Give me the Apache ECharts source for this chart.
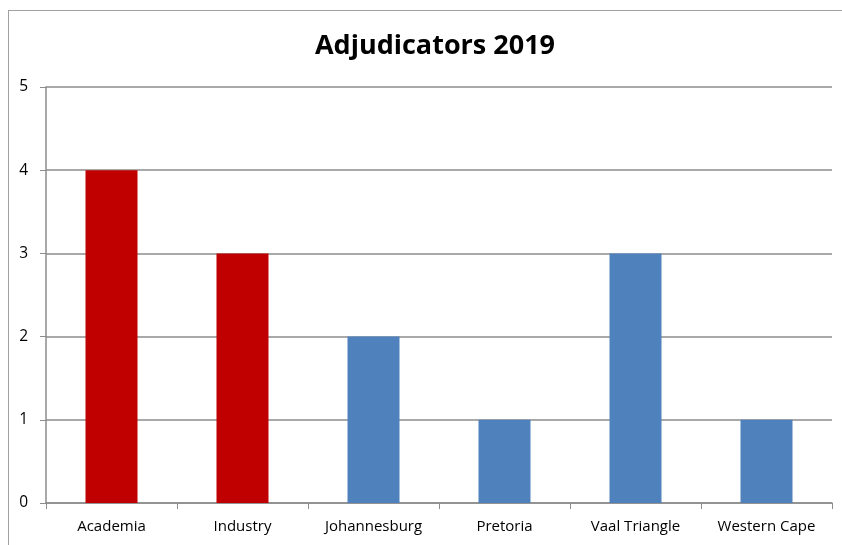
<!DOCTYPE html>
<html>
<head>
<meta charset="utf-8">
<script src="https://cdn.jsdelivr.net/npm/echarts@6/dist/echarts.min.js"></script>
<style>
  html, body { margin: 0; padding: 0; background: #fff; overflow: hidden; }
  #frame { position: absolute; left: 8px; top: 10px; width: 900px; height: 600px;
           border-left: 1px solid #a0a0a0; border-top: 1px solid #a0a0a0; }
  #main { position: absolute; left: 0; top: 0; width: 842px; height: 545px; }
</style>
</head>
<body>
<div id="frame"></div>
<div id="main"></div>
<script>
// data
var categories = ['Academia', 'Industry', 'Johannesburg', 'Pretoria', 'Vaal Triangle', 'Western Cape'];
var values = [4, 3, 2, 1, 3, 1];
var barColors = ['#C00000', '#C00000', '#4F81BD', '#4F81BD', '#4F81BD', '#4F81BD'];

var chart = echarts.init(document.getElementById('main'));

var option = {
    backgroundColor: 'transparent',
    title: {
        text: 'Adjudicators 2019',
        left: 430,
        top: 28,
        textAlign: 'center',
        textStyle: { fontFamily: 'Open Sans', fontSize: 27, fontWeight: 'bold', color: '#000' }
    },
    grid: { left: 46, right: 10, top: 87, bottom: 42 },
    xAxis: {
        type: 'category',
        data: categories,
        axisLine: { lineStyle: { color: '#8c8c8c', width: 1.5 } },
        axisTick: { show: true, length: 6, interval: 0, alignWithLabel: false, lineStyle: { color: '#8c8c8c' } },
        axisLabel: { interval: 0, color: '#000', fontFamily: 'Open Sans', fontSize: 15, margin: 16 }
    },
    yAxis: {
        type: 'value',
        min: 0, max: 5, interval: 1,
        axisLine: { show: true, lineStyle: { color: '#8c8c8c', width: 1.5 } },
        axisTick: { show: true, length: 6, lineStyle: { color: '#8c8c8c' } },
        axisLabel: { color: '#000', fontFamily: 'Open Sans', fontSize: 15.5, margin: 18 },
        splitLine: { lineStyle: { color: '#8c8c8c', width: 1.5 } }
    },
    series: [{
        type: 'bar',
        barWidth: 52,
        data: values.map(function (v, i) {
            return { value: v, itemStyle: { color: barColors[i] } };
        })
    }]
};

chart.setOption(option);
</script>
</body>
</html>
